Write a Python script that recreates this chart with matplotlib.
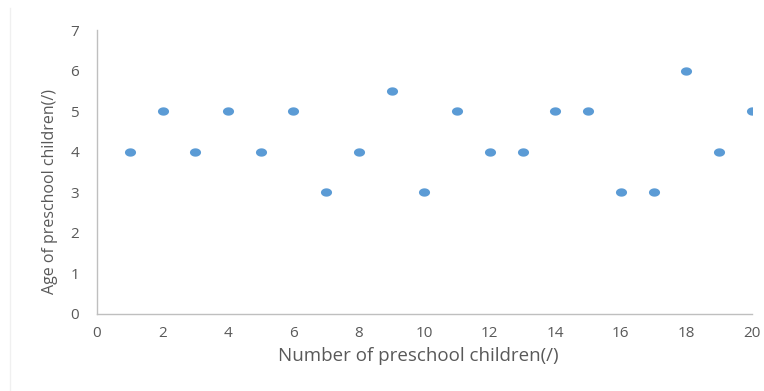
import matplotlib
matplotlib.use("Agg")
import matplotlib.pyplot as plt
from matplotlib.path import Path
from matplotlib.lines import Line2D
import numpy as np

x_values = [1, 2, 3, 4, 5, 6, 7, 8, 9, 10, 11, 12, 13, 14, 15, 16, 17, 18, 19, 20]
ages = [4, 5, 4, 5, 4, 5, 3, 4, 5.5, 3, 5, 4, 4, 5, 5, 3, 3, 6, 4, 5]
x_ticks = [0, 2, 4, 6, 8, 10, 12, 14, 16, 18, 20]
y_ticks = [0, 1, 2, 3, 4, 5, 6, 7]

plt.rcParams['font.family'] = ['Open Sans', 'DejaVu Sans']

fig = plt.figure(figsize=(7.64, 3.91), dpi=100)
ax = fig.add_axes([0.127, 0.197, 0.857, 0.726])

t = np.linspace(0, 2 * np.pi, 40)
ellipse = Path(np.column_stack([np.cos(t), 0.75 * np.sin(t)]), closed=True)

ax.plot(x_values, ages, linestyle='none', marker=ellipse, markersize=8.0,
        color='#5B9BD5', markeredgewidth=0)

ax.set_xlim(0, 20)
ax.set_ylim(0, 7)
ax.set_xticks(x_ticks)
ax.set_yticks(y_ticks)

for s in ['top', 'right']:
    ax.spines[s].set_visible(False)
for s in ['left', 'bottom']:
    ax.spines[s].set_color('#BFBFBF')
    ax.spines[s].set_linewidth(1.0)

ax.tick_params(axis='both', length=0, labelsize=11, labelcolor='#595959')
ax.tick_params(axis='y', pad=13)
ax.tick_params(axis='x', pad=9)

ax.set_xlabel('Number of preschool children(/)', fontsize=13.5, color='#595959',
              va='center', ha='center')
ax.set_ylabel('Age of preschool children(/)', fontsize=11.5, color='#595959',
              va='center', ha='center')
ax.xaxis.set_label_coords(0.49, -0.148)
ax.yaxis.set_label_coords(-0.072, 0.43)

fig.add_artist(Line2D([10 / 764, 10 / 764], [0, 0.98], transform=fig.transFigure,
                      color='#F0F0F0', linewidth=1))

fig.savefig('out.png', dpi=100, facecolor='white')
